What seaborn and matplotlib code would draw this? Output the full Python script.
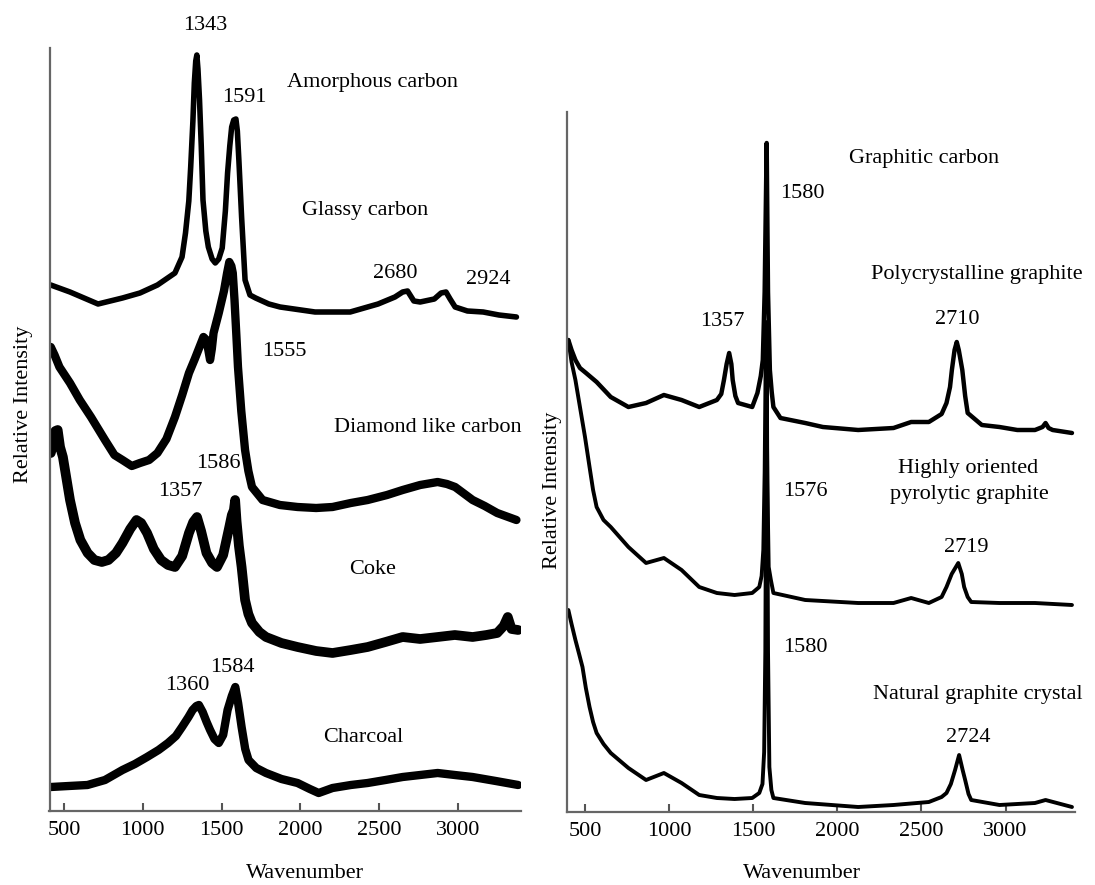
import matplotlib
matplotlib.use("Agg")
import matplotlib.pyplot as plt
import seaborn as sns

# Raman spectra; intensity = height above the x axis (pixels of the original)
glassy_wn = [416, 538, 716, 871, 982, 1093, 1204, 1249, 1271, 1292, 1304, 1318, 1327, 1336, 1343,
             1350, 1360, 1371, 1382, 1400, 1416, 1440, 1460, 1482, 1504, 1524, 1538, 1552, 1564,
             1577, 1591, 1600, 1610, 1627, 1649, 1680, 1716, 1800, 1871, 2093, 2316, 2493, 2600,
             2649, 2680, 2720, 2760, 2850, 2893, 2924, 2950, 2982, 3060, 3160, 3260, 3371]
glassy_int = [526, 519, 507, 513, 518, 526, 538, 554, 578, 610, 644, 690, 728, 750, 756,
              742, 711, 665, 611, 580, 564, 552, 548, 552, 563, 600, 638, 665, 684,
              691, 692, 680, 650, 594, 531, 516, 513, 507, 504, 499, 499, 507, 514,
              519, 520, 510, 509, 512, 518, 519, 512, 504, 500, 499, 496, 494]

dlc_wn = [416, 440, 471, 538, 600, 671, 760, 820, 871, 930, 982, 1040, 1093, 1150, 1204, 1250,
          1293, 1330, 1360, 1385, 1404, 1417, 1427, 1438, 1449, 1482, 1515, 1535, 1549, 1562,
          1571, 1582, 1594, 1604, 1625, 1649, 1670, 1693, 1760, 1870, 1982, 2100, 2204, 2320,
          2427, 2550, 2649, 2760, 2871, 2930, 2982, 3093, 3170, 3249, 3371]
dlc_int = [464, 456, 444, 428, 411, 394, 371, 356, 351, 345, 348, 351, 358, 372, 394, 416,
           438, 452, 464, 474, 471, 460, 451, 462, 478, 498, 520, 538, 549, 545,
           538, 511, 475, 444, 400, 361, 340, 324, 311, 306, 304, 303, 304, 308,
           311, 316, 321, 326, 329, 327, 324, 311, 305, 298, 291]

coke_wn = [416, 430, 445, 460, 475, 493, 538, 570, 604, 650, 693, 740, 782, 830, 871, 920, 960,
           990, 1027, 1070, 1116, 1160, 1204, 1250, 1293, 1320, 1344, 1370, 1404, 1440, 1471,
           1510, 1549, 1565, 1578, 1586, 1595, 1610, 1627, 1649, 1670, 1693, 1740, 1782, 1880,
           1982, 2100, 2204, 2320, 2427, 2540, 2649, 2760, 2871, 2980, 3093, 3180, 3249, 3290,
           3316, 3340, 3382]
coke_int = [358, 366, 380, 381, 364, 354, 311, 288, 271, 258, 251, 249, 251, 258, 268, 282, 291,
            288, 278, 262, 251, 246, 244, 255, 278, 289, 294, 280, 258, 248, 244,
            256, 284, 296, 301, 311, 290, 265, 244, 211, 197, 188, 179, 174, 168,
            164, 160, 158, 161, 164, 169, 174, 172, 174, 176, 174, 176, 178, 185,
            194, 182, 181]

charcoal_wn = [416, 530, 649, 760, 871, 950, 1027, 1100, 1160, 1210, 1249, 1290, 1316, 1340, 1356,
               1380, 1405, 1427, 1455, 1482, 1510, 1538, 1565, 1587, 1605, 1627, 1650, 1671,
               1720, 1782, 1880, 1982, 2060, 2116, 2204, 2320, 2427, 2540, 2649, 2760, 2871,
               2980, 3093, 3240, 3382]
charcoal_int = [24, 25, 26, 31, 41, 47, 54, 61, 68, 75, 84, 94, 101, 105, 106,
                99, 89, 81, 72, 68, 76, 101, 115, 124, 108, 84, 62, 51,
                43, 38, 32, 28, 22, 18, 23, 26, 28, 31, 34, 36, 38,
                36, 34, 30, 26]

poly_wn = [401, 420, 443, 470, 506, 569, 653, 758, 863, 969, 1074, 1179, 1284, 1310, 1326, 1342,
           1357, 1370, 1378, 1394, 1410, 1494, 1525, 1545, 1557, 1568, 1580, 1588, 1599, 1610,
           1620, 1662, 1809, 1914, 2124, 2334, 2439, 2544, 2620, 2649, 2670, 2681, 2697, 2710,
           2722, 2743, 2760, 2775, 2859, 2964, 3070, 3175, 3220, 3238, 3256, 3280, 3395]
poly_int = [472, 462, 452, 444, 439, 430, 415, 405, 409, 417, 412, 405, 412, 418, 432, 448,
            459, 448, 432, 416, 409, 405, 419, 436, 452, 520, 669, 520, 442, 420,
            405, 394, 389, 385, 382, 384, 390, 390, 398, 409, 425, 442, 462, 470,
            462, 442, 416, 399, 387, 385, 382, 382, 385, 389, 384, 382, 379]

hopg_wn = [401, 420, 443, 475, 500, 527, 548, 569, 610, 653, 758, 863, 969, 1074, 1179, 1284,
           1389, 1494, 1536, 1550, 1560, 1568, 1576, 1584, 1592, 1605, 1620, 1809, 2124, 2334,
           2439, 2544, 2620, 2649, 2680, 2719, 2740, 2754, 2775, 2796, 2964, 3175, 3395]
hopg_int = [472, 450, 432, 400, 375, 345, 322, 305, 292, 285, 265, 249, 254, 242, 225, 219,
            217, 219, 225, 236, 262, 340, 490, 330, 245, 232, 219, 212, 209, 209,
            214, 209, 215, 225, 238, 249, 238, 225, 215, 210, 209, 209, 207]

natural_wn = [401, 420, 443, 465, 485, 505, 527, 548, 569, 610, 653, 758, 863, 969, 1074, 1179,
              1284, 1389, 1494, 1536, 1555, 1565, 1572, 1580, 1588, 1596, 1608, 1620, 1809,
              2124, 2334, 2544, 2620, 2649, 2675, 2700, 2724, 2745, 2760, 2780, 2796, 2964,
              3175, 3238, 3395]
natural_int = [202, 188, 172, 158, 145, 124, 105, 90, 79, 68, 59, 44, 32, 39, 29, 17,
               14, 13, 14, 19, 28, 60, 160, 480, 160, 45, 22, 14, 9,
               5, 7, 10, 15, 19, 28, 42, 57, 42, 32, 18, 12, 7,
               9, 12, 5]

ticks = [500, 1000, 1500, 2000, 2500, 3000]

sns.set_theme(style="white")
plt.rcParams['font.family'] = ['Liberation Serif', 'DejaVu Serif']
plt.rcParams['text.color'] = 'black'
plt.rcParams['xtick.color'] = 'black'

W, H = 1095, 885
fig = plt.figure(figsize=(W / 100, H / 100), dpi=100)
ax1 = fig.add_axes([49.5 / W, 74 / H, 471.5 / W, 763 / H])
ax2 = fig.add_axes([566.5 / W, 73 / H, 508 / W, 700 / H])

# left panel
for wn, it, lw in [(glassy_wn, glassy_int, 4), (dlc_wn, dlc_int, 6),
                   (coke_wn, coke_int, 7), (charcoal_wn, charcoal_int, 6)]:
    sns.lineplot(x=wn, y=it, ax=ax1, color='black', lw=lw, estimator=None, sort=False,
                 solid_joinstyle='round', solid_capstyle='round')
ax1.set_xlim(408, 3400)
ax1.set_ylim(0, 763)

# right panel
for wn, it, lw in [(poly_wn, poly_int, 3.2), (hopg_wn, hopg_int, 2.8), (natural_wn, natural_int, 2.8)]:
    sns.lineplot(x=wn, y=it, ax=ax2, color='black', lw=lw, estimator=None, sort=False,
                 solid_joinstyle='round', solid_capstyle='round')
ax2.set_xlim(390, 3410)
ax2.set_ylim(0, 700)

for ax in (ax1, ax2):
    ax.set_xticks(ticks)
    ax.set_xticklabels([str(t) for t in ticks])
    ax.set_yticks([])
    ax.tick_params(axis='x', direction='in', length=6, width=1.5, color='#555555',
                   labelsize=16, pad=7, bottom=True, labelcolor='black')
    for s in ('top', 'right'):
        ax.spines[s].set_visible(False)
    for s in ('left', 'bottom'):
        ax.spines[s].set_color('#666666')
        ax.spines[s].set_linewidth(1.6)
    ax.set_xlabel('')
    ax.set_ylabel('')

fs = 16
left_notes = [
    (1398, 786, '1343'), (2460, 729, 'Amorphous carbon'), (1642, 714, '1591'),
    (2409, 601, 'Glassy carbon'), (2604, 537, '2680'), (3193, 531, '2924'),
    (1898, 459, '1555'), (2809, 383, 'Diamond like carbon'), (1482, 347, '1586'),
    (1238, 319, '1357'), (2460, 241, 'Coke'), (1282, 126, '1360'), (1571, 144, '1584'),
    (2398, 74, 'Charcoal'),
]
for x, y, s in left_notes:
    ax1.text(x, y, s, ha='center', va='center', fontsize=fs, clip_on=False)

right_notes = [
    (2517, 654, 'Graphitic carbon'), (1790, 619, '1580'),
    (2828, 537, 'Polycrystalline graphite'), (1319, 490, '1357'), (2712, 492, '2710'),
    (2780, 344, 'Highly oriented'), (2786, 317, 'pyrolytic graphite'), (1809, 320, '1576'),
    (2769, 265, '2719'), (1809, 165, '1580'), (2838, 117, 'Natural graphite crystal'),
    (2780, 74, '2724'),
]
for x, y, s in right_notes:
    ax2.text(x, y, s, ha='center', va='center', fontsize=fs, clip_on=False)

fig.text(24 / W, 1 - 404 / H, 'Relative Intensity', rotation=90, ha='center', va='center', fontsize=fs)
fig.text(552 / W, 1 - 490 / H, 'Relative Intensity', rotation=90, ha='center', va='center', fontsize=fs)
fig.text(305 / W, 1 - 873 / H, 'Wavenumber', ha='center', va='center', fontsize=fs)
fig.text(802 / W, 1 - 873 / H, 'Wavenumber', ha='center', va='center', fontsize=fs)

fig.savefig('out.png', dpi=100)
